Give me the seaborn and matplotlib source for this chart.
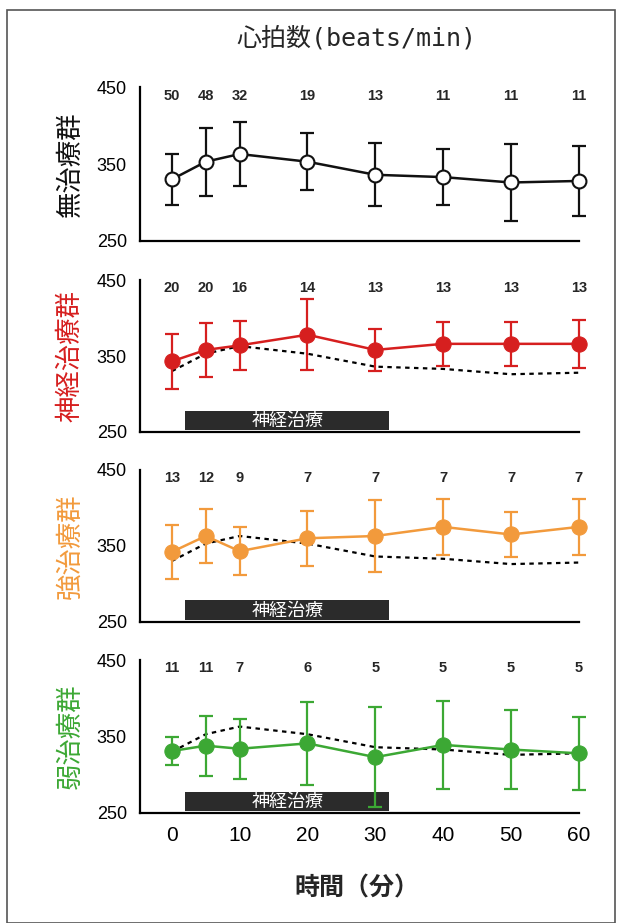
import matplotlib
matplotlib.use("Agg")
import matplotlib.pyplot as plt
import seaborn as sns
import pandas as pd
from matplotlib.patches import Rectangle

# time points (min)
times = [0, 5, 10, 20, 30, 40, 50, 60]
xticks = [0, 10, 20, 30, 40, 50, 60]

groups = ["無治療群", "神経治療群", "強治療群", "弱治療群"]
colors = ["#111111", "#d61f1f", "#f29a3c", "#3ca834"]

# number of animals at each time point
n_ctrl = [50, 48, 32, 19, 13, 11, 11, 11]
n_nerve = [20, 20, 16, 14, 13, 13, 13, 13]
n_strong = [13, 12, 9, 7, 7, 7, 7, 7]
n_weak = [11, 11, 7, 6, 5, 5, 5, 5]

# mean heart rate (beats/min)
mean_ctrl = [330, 353, 363, 353, 336, 333, 326, 328]
mean_nerve = [343, 358, 364, 378, 358, 366, 366, 366]
mean_strong = [342, 363, 343, 360, 363, 375, 365, 375]
mean_weak = [331, 338, 334, 341, 323, 339, 333, 328]

# standard deviation
sd_ctrl = [33, 44, 42, 37, 41, 36, 50, 45]
sd_nerve = [36, 35, 32, 47, 28, 29, 29, 32]
sd_strong = [36, 35, 32, 36, 48, 37, 30, 37]
sd_weak = [18, 39, 39, 54, 65, 57, 52, 48]

# treatment window (min)
treat_start, treat_end = 2, 32
treat_label = "神経治療"

means = [mean_ctrl, mean_nerve, mean_strong, mean_weak]
sds = [sd_ctrl, sd_nerve, sd_strong, sd_weak]
ns = [n_ctrl, n_nerve, n_strong, n_weak]

sns.set_style("white")
plt.rcParams["font.family"] = ["Noto Sans CJK JP", "DejaVu Sans"]

fig = plt.figure(figsize=(6.21, 9.23), dpi=100)

# axes boxes in figure fraction
tops = [0.9057, 0.6966, 0.4908, 0.2849]
bottoms = [0.7389, 0.532, 0.3264, 0.1192]
left, right = 0.2254, 0.932

ctrl_df = pd.DataFrame({"time": times, "mean": mean_ctrl})
num_font = ["Liberation Sans", "DejaVu Sans"]

for i, g in enumerate(groups):
    ax = fig.add_axes([left, bottoms[i], right - left, tops[i] - bottoms[i]])
    df = pd.DataFrame({"time": times, "mean": means[i], "sd": sds[i]})
    c = colors[i]

    if i > 0:
        # control group mean as reference
        sns.lineplot(data=ctrl_df, x="time", y="mean", ax=ax, color="black",
                     linestyle=(0, (2, 2)), linewidth=1.6, zorder=2)
        ax.add_patch(Rectangle((treat_start, 252), treat_end - treat_start, 26,
                               facecolor="#2b2b2b", edgecolor="none", zorder=1,
                               clip_on=False))
        ax.text((treat_start + treat_end) / 2, 264, treat_label, color="white",
                ha="center", va="center", fontsize=13, zorder=3)

    ax.errorbar(df["time"], df["mean"], yerr=df["sd"], fmt="none", ecolor=c,
                elinewidth=1.6, capsize=5, capthick=1.6, zorder=3, clip_on=False)
    if i == 0:
        sns.lineplot(data=df, x="time", y="mean", ax=ax, color=c, linewidth=1.8,
                     marker="o", markersize=10, markerfacecolor="white",
                     markeredgecolor=c, markeredgewidth=1.5, zorder=4, clip_on=False)
    else:
        sns.lineplot(data=df, x="time", y="mean", ax=ax, color=c, linewidth=1.8,
                     marker="o", markersize=11, markerfacecolor=c,
                     markeredgecolor=c, zorder=4, clip_on=False)

    for t, n in zip(times, ns[i]):
        ax.text(t, 439, str(n), ha="center", va="center", fontsize=10.5,
                fontweight="bold", family=num_font)

    ax.set_xlim(-4.7, 60)
    ax.set_ylim(250, 450)
    ax.set_yticks([250, 350, 450])
    ax.set_xticks(xticks)
    ax.set_xlabel("")
    ax.set_ylabel("")
    for s in ["top", "right"]:
        ax.spines[s].set_visible(False)
    for s in ["left", "bottom"]:
        ax.spines[s].set_color("black")
        ax.spines[s].set_linewidth(1.6)
    ax.tick_params(axis="both", direction="out", length=6, width=1.4, colors="black")
    ax.tick_params(axis="y", labelsize=13)
    for lab in ax.get_yticklabels():
        lab.set_family(num_font)
    if i < 3:
        ax.tick_params(axis="x", labelbottom=False)
    else:
        ax.tick_params(axis="x", labelsize=15)
        for lab in ax.get_xticklabels():
            lab.set_family(num_font)

    fig.text(0.113, (tops[i] + bottoms[i]) / 2, g, rotation=90, ha="center",
             va="center", fontsize=19, color=c)

fig.text(0.574, 0.959, "心拍数(beats/min)", ha="center", va="center", fontsize=18,
         family=["DejaVu Sans Mono", "Noto Sans CJK JP"])
fig.text(0.575, 0.037, "時間（分）", ha="center", va="center", fontsize=18,
         fontweight="bold")

fig.patches.append(Rectangle((0.012, 0.0), 0.978, 0.989, transform=fig.transFigure,
                             fill=False, edgecolor="#555555", linewidth=1.2))

fig.savefig("out.png", dpi=100)
